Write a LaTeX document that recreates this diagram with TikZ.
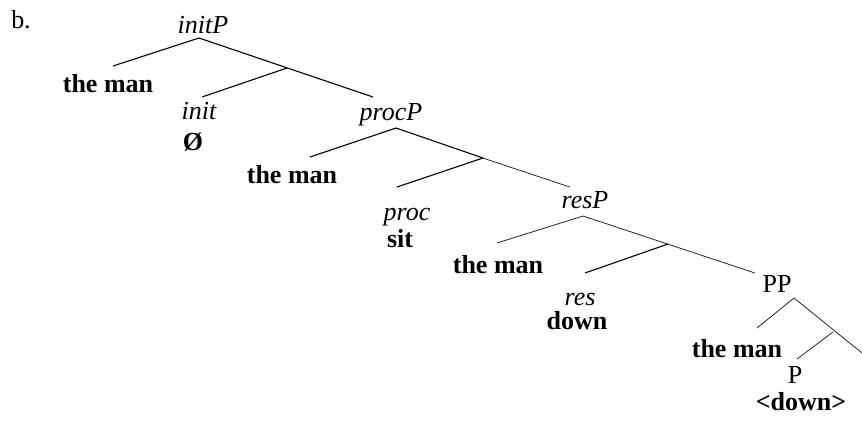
\documentclass[tikz,border=0pt]{standalone}
\usepackage{fontspec}
\setmainfont{Liberation Serif}
\usepackage{tikz}
\tikzset{
  cat/.style={anchor=base, inner sep=0pt, font=\fontsize{13}{15}\selectfont\itshape},
  plain/.style={anchor=base, inner sep=0pt, font=\fontsize{13}{15}\selectfont},
  lex/.style={anchor=base, inner sep=0pt, font=\fontsize{13}{15}\selectfont\bfseries},
  branch/.style={line width=0.55pt, draw=black},
  thin/.style={line width=0.4pt, draw=black!85},
}

\begin{document}
\begin{tikzpicture}[x=0.5pt, y=-0.5pt]
  \useasboundingbox (0,0) rectangle (862,420);
  \node[plain] (lblb) at (21,28) {b.};
  % initP layer
  \node[cat] (initP) at (203,33) {initP};
  \node[lex] (spec1) at (108,92) {the man};
  \node[cat] (init) at (199,119) {init};
  \node[lex] (nullh) at (193,150) {Ø};
  \coordinate (t1) at (199,38);
  \coordinate (t1l) at (113,66);
  \coordinate (t1r) at (373,97);
  \coordinate (b1) at (287,68);
  \coordinate (b1l) at (202,97);
  \draw[branch] (t1l) -- (t1) -- (t1r);
  \draw[branch] (b1) -- (b1l);
  % procP layer
  \node[cat] (procP) at (391,120) {procP};
  \node[lex] (spec2) at (292,183) {the man};
  \node[cat] (proc) at (407,220) {proc};
  \node[lex] (sit) at (400,247) {sit};
  \coordinate (t2) at (396,128);
  \coordinate (t2l) at (310,157);
  \coordinate (t2r) at (570,187);
  \coordinate (b2) at (483,158);
  \coordinate (b2l) at (397,187);
  \draw[branch] (t2l) -- (t2) -- (b2);
  \draw[thin] (b2) -- (t2r);
  \draw[branch] (b2) -- (b2l);
  % resP layer
  \node[cat] (resP) at (585,208) {resP};
  \node[lex] (spec3) at (498,273) {the man};
  \node[cat] (res) at (580,305) {res};
  \node[lex] (down) at (577,329) {down};
  \coordinate (t3) at (583,216);
  \coordinate (t3l) at (497,243);
  \coordinate (t3r) at (755,273);
  \coordinate (b3) at (668,244);
  \coordinate (b3l) at (585,273);
  \draw[thin] (t3l) -- (t3) -- (t3r);
  \draw[branch] (b3) -- (b3l);
  % PP layer
  \node[plain] (PP) at (777,292) {PP};
  \node[lex] (spec4) at (737,357) {the man};
  \node[plain] (P) at (795,383) {P};
  \node[lex] (pdown) at (801,410) {<down>};
  \coordinate (t4) at (794,298);
  \coordinate (t4l) at (757,328);
  \coordinate (t4r) at (862,353);
  \coordinate (b4) at (833,332);
  \coordinate (b4l) at (797,359);
  \draw[thin] (t4l) -- (t4) -- (t4r);
  \draw[thin] (b4) -- (b4l);
\end{tikzpicture}
\end{document}
